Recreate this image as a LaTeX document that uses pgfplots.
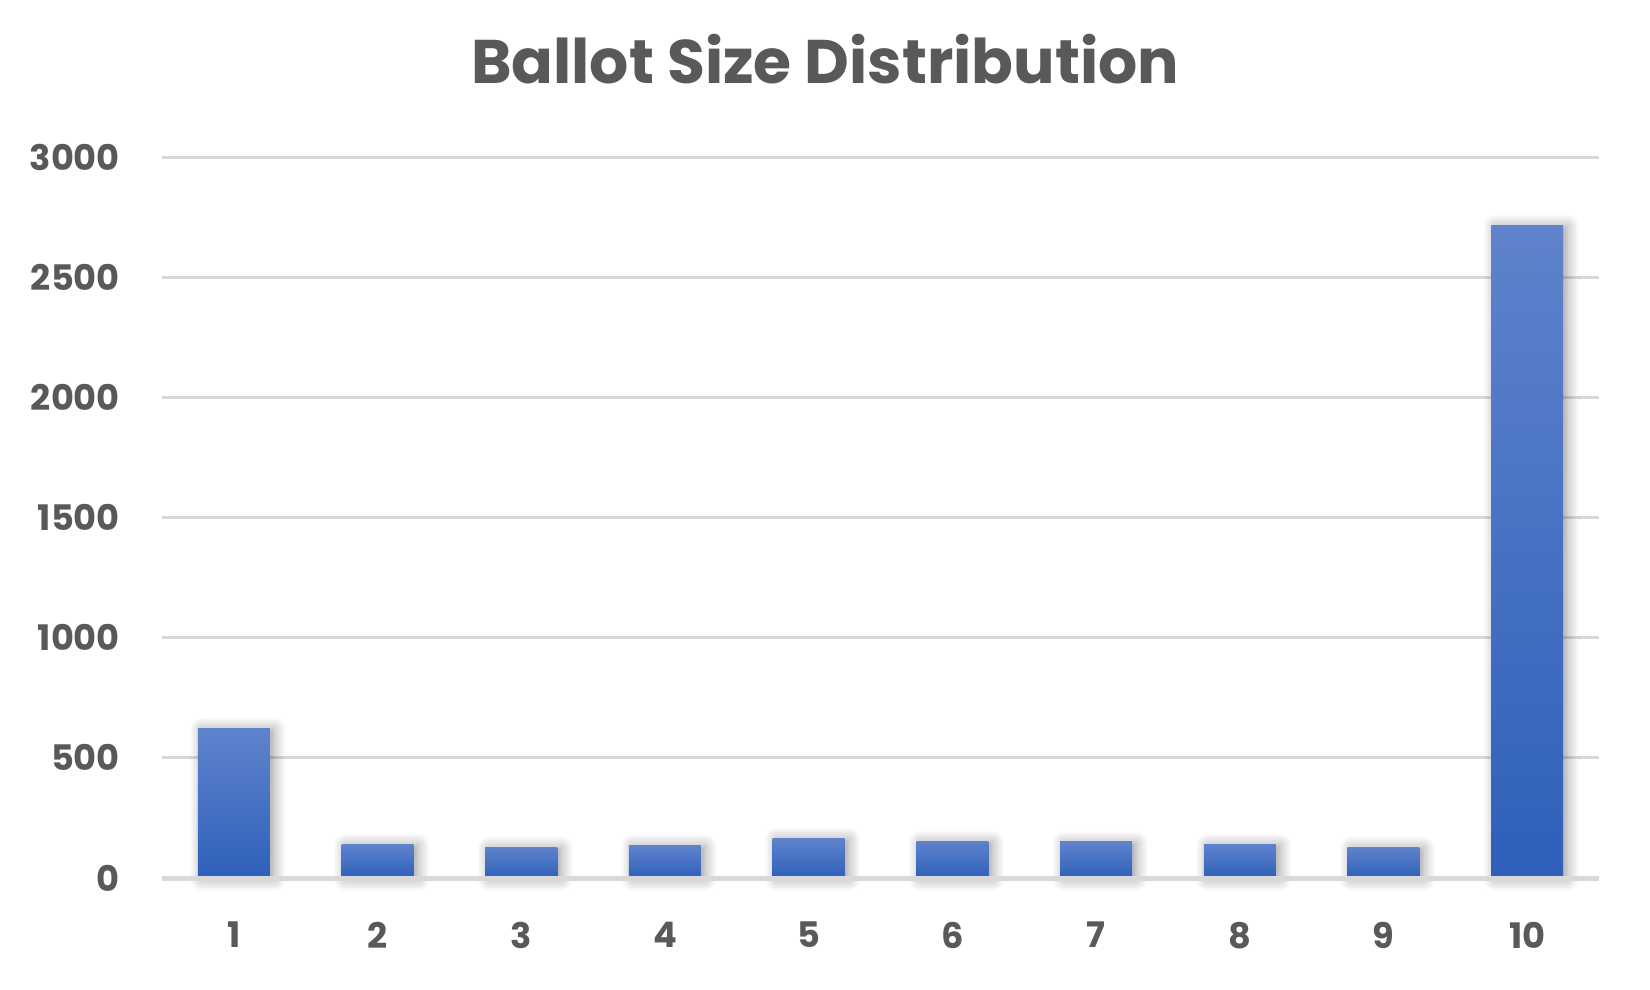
\documentclass[border=0pt]{standalone}
\usepackage{pgfplots}
\pgfplotsset{compat=1.18}
\usepackage{fontspec}
\setmainfont{Poppins}[UprightFont=* Bold, BoldFont=* Bold]
\usetikzlibrary{shadows.blur}
\definecolor{txt}{HTML}{595959}
\definecolor{gridc}{HTML}{D9D9D9}
\definecolor{bartop}{HTML}{5F83CC}
\definecolor{barbot}{HTML}{2E60BA}

\pgfplotsset{
    gradbar/.style={
        ybar,
        bar width=18pt,
        bar shift=0pt,
        draw=none,
        top color=bartop,
        bottom color=barbot,
        blur shadow={shadow xshift=1pt, shadow yshift=-0.3pt,
            shadow blur radius=3pt, shadow blur steps=8, shadow opacity=40},
    },
}

\begin{document}
\begin{tikzpicture}
\begin{axis}[
    scale only axis,
    width=359.25pt,
    height=180.25pt,
    xmin=0.5, xmax=10.5,
    ymin=0, ymax=3000,
    ytick={0,500,...,3000},
    xtick={1,...,10},
    axis line style={draw=none},
    major tick length=0pt,
    ymajorgrids=true,
    xmajorgrids=false,
    grid style={draw=gridc, line width=0.75pt},
    tick label style={font=\fontsize{8.8}{10}\selectfont, text=txt},
    /pgf/number format/assume math mode=true,
    /pgf/number format/1000 sep={},
    yticklabel style={xshift=-7pt},
    xticklabel style={yshift=-7.5pt},
    title={Ballot Size Distribution},
    title style={at={(0.4614,1)}, anchor=base, yshift=12.5pt,
        font=\fontsize{15.4}{18}\selectfont, text=txt},
    clip=false,
]
% one plot per bar so each bar gets its own gradient
\addplot[gradbar] coordinates {(1, 624)};
\addplot[gradbar] coordinates {(2, 141)};
\addplot[gradbar] coordinates {(3, 129)};
\addplot[gradbar] coordinates {(4, 137)};
\addplot[gradbar] coordinates {(5, 166)};
\addplot[gradbar] coordinates {(6, 154)};
\addplot[gradbar] coordinates {(7, 150)};
\addplot[gradbar] coordinates {(8, 141)};
\addplot[gradbar] coordinates {(9, 129)};
\addplot[gradbar] coordinates {(10, 2717)};
% baseline at zero
\draw[gridc, line width=1.25pt] (axis cs:0.5,0) -- (axis cs:10.5,0);
\end{axis}
\pgfresetboundingbox
\useasboundingbox (-40.5pt,-27.75pt) rectangle (372pt,219.5pt);
\end{tikzpicture}
\end{document}
